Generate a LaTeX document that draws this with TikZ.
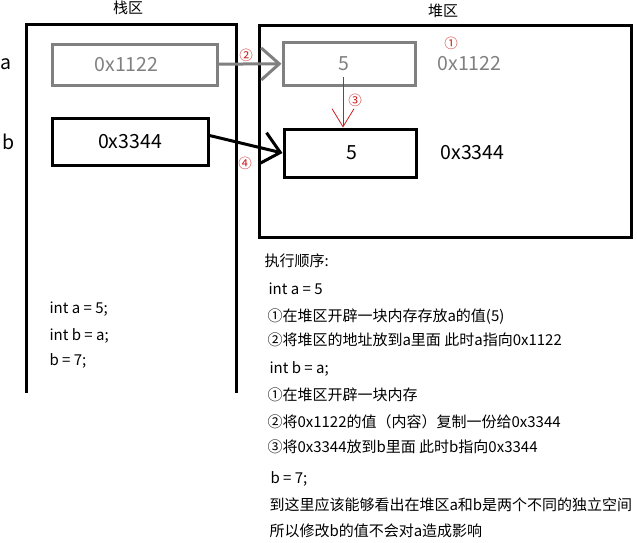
\documentclass[tikz,border=0pt]{standalone}
\usepackage{fontspec}
\setmainfont{Noto Sans CJK SC}
\usetikzlibrary{positioning, arrows.meta}
\definecolor{cellgray}{RGB}{128,128,128}
\definecolor{stepred}{RGB}{200,30,30}

\begin{document}
\begin{tikzpicture}[x=1pt, y=-1pt, line width=3pt,
  cell/.style = {draw, inner sep=0pt, font=\fontsize{19.5pt}{23pt}\selectfont},
  faded/.style = {cell, draw=cellgray, text=cellgray},
  addr/.style = {inner sep=0pt, font=\fontsize{19.5pt}{23pt}\selectfont},
  note/.style = {anchor=west, inner sep=0pt, font=\fontsize{15pt}{18pt}\selectfont, text height=13.2pt, text depth=1.8pt},
  circ/.style = {inner sep=0pt, text=stepred, font=\fontsize{13.5pt}{15pt}\selectfont},
  barb/.style = {-{Straight Barb[length=18pt, width=32pt]}}]
\useasboundingbox (0,0) rectangle (637,542);

% stack
\draw (26,393) -- (26,24) -- (236,24) -- (236,393);
\node[note, anchor=center] (stack) at (128,7.6) {栈区};
\node[faded, minimum width=165pt, minimum height=41pt] (sa) at (134.5,64.5) {0x1122\hspace*{16pt}};
\node[cell, minimum width=156pt, minimum height=47pt] (sb) at (130,141.5) {0x3344};
\node[addr, left=38pt of sa] (va) {a};
\node[addr, left=34pt of sb] (vb) {b};
\node[note] (c1) at (48,308) {int a = 5;};
\node[note] (c2) at (48,335) {int b = a;};
\node[note] (c3) at (48,360) {b = 7;};

% heap
\node[draw, inner sep=0pt, minimum width=372pt, minimum height=212pt] (heap) at (445,131) {};
\node[note, anchor=center] (heaptitle) at (443,11) {堆区};
\node[faded, minimum width=132pt, minimum height=43pt] (ha) at (349,63.5) {5\hspace*{10pt}};
\node[cell, minimum width=132pt, minimum height=48pt] (hb) at (350,153) {\hspace*{4pt}5};
\node[addr, text=cellgray, right=19.5pt of ha] (haddr) {0x1122};
\node[addr, right=21.5pt of hb] (hbddr) {0x3344};

% step marks
\node[circ] (s1) at (451,43) {①};
\node[circ] (s2) at (246,55) {②};
\node[circ] (s3) at (355,100) {③};
\node[circ] (s4) at (245,163) {④};

\draw[barb, cellgray] (sa) -- (ha);
\draw[barb] ([yshift=6pt]sb.east) -- (hb.west);
\draw[stepred, line width=0.8pt, -{Straight Barb[length=18pt, width=22pt]}] ([xshift=-6pt, yshift=-13.5pt]ha.center) -- ([xshift=-7pt]hb.north);

% order of execution
\node[note] (t0) at (263,261) {执行顺序:};
\node[note] (t1) at (267,289) {int a = 5};
\node[note] (t2) at (266,316) {①在堆区开辟一块内存存放a的值(5)};
\node[note] (t3) at (266,340) {②将堆区的地址放到a里面 此时a指向0x1122};
\node[note] (t4) at (268,368) {int b = a;};
\node[note] (t5) at (266,395) {①在堆区开辟一块内存};
\node[note] (t6) at (266,422) {②将0x1122的值（内容）复制一份给0x3344};
\node[note] (t7) at (266,447) {③将0x3344放到b里面 此时b指向0x3344};
\node[note] (t8) at (269,478) {b = 7;};
\node[note] (t9) at (268,505) {到这里应该能够看出在堆区a和b是两个不同的独立空间};
\node[note] (t10) at (268,531) {所以修改b的值不会对a造成影响};
\end{tikzpicture}
\end{document}
